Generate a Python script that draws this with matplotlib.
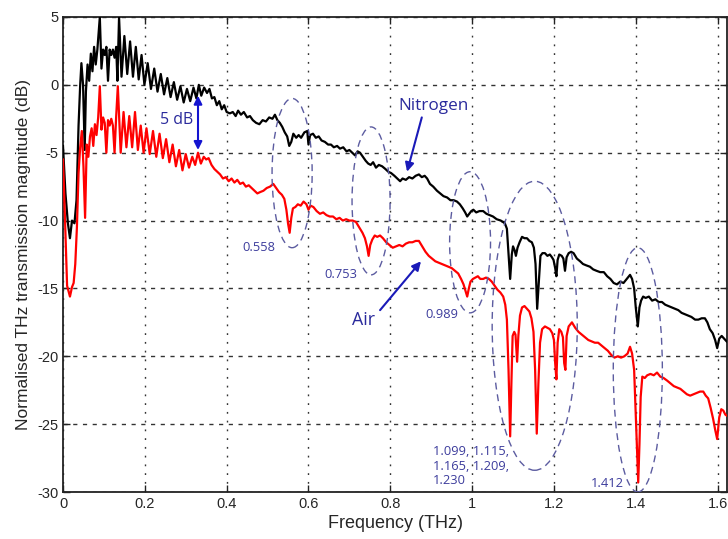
import matplotlib
matplotlib.use("Agg")
import matplotlib.pyplot as plt
from matplotlib.patches import Ellipse

# -----------------------------
# Data (THz, dB)
# -----------------------------

n2_freq = [
    0.000, 0.006, 0.012, 0.017, 0.022, 0.028, 0.033, 0.038, 0.042, 0.045,
    0.049, 0.053, 0.056, 0.060, 0.064, 0.068, 0.072, 0.076, 0.080, 0.084,
    0.090, 0.094, 0.098, 0.102, 0.106, 0.110, 0.114, 0.118, 0.122, 0.126,
    0.130, 0.133, 0.137, 0.143, 0.150, 0.157, 0.164, 0.171, 0.178, 0.185,
    0.192, 0.199, 0.207, 0.215, 0.223, 0.231, 0.239, 0.247, 0.255, 0.263,
    0.271, 0.279, 0.287, 0.295, 0.303, 0.311, 0.319, 0.326, 0.332, 0.338,
    0.345, 0.352, 0.358, 0.364, 0.370, 0.376, 0.382, 0.388, 0.394, 0.400,
    0.408, 0.415, 0.422, 0.428, 0.435, 0.442, 0.450, 0.457,
    0.464, 0.472, 0.480, 0.488, 0.496, 0.504, 0.512, 0.518, 0.524, 0.530,
    0.536, 0.542, 0.548, 0.553, 0.558, 0.563, 0.570, 0.576, 0.582, 0.590,
    0.597, 0.600, 0.604, 0.611, 0.618, 0.625, 0.632, 0.640, 0.648, 0.655,
    0.662, 0.670, 0.677, 0.685, 0.693, 0.700, 0.707, 0.714, 0.720, 0.726,
    0.733, 0.740, 0.746, 0.752, 0.758, 0.765, 0.772, 0.780, 0.788, 0.795,
    0.802, 0.810, 0.817, 0.824, 0.830, 0.838, 0.846, 0.854, 0.862, 0.870,
    0.877, 0.884, 0.890, 0.897, 0.905, 0.914, 0.922, 0.930, 0.939, 0.947,
    0.955, 0.963, 0.970, 0.977, 0.983, 0.988, 0.993, 0.998, 1.003, 1.010,
    1.018, 1.027, 1.035, 1.043, 1.051, 1.060, 1.070, 1.080, 1.085, 1.089,
    1.093, 1.097, 1.100, 1.104, 1.107, 1.111, 1.116, 1.122, 1.128, 1.134,
    1.140, 1.146, 1.151, 1.155, 1.159, 1.163, 1.167, 1.172, 1.178, 1.184,
    1.190, 1.195, 1.199, 1.203, 1.206, 1.209, 1.213, 1.219, 1.223, 1.227,
    1.231, 1.236, 1.242, 1.248, 1.256, 1.264, 1.271, 1.279, 1.288, 1.296,
    1.304, 1.313, 1.322, 1.330, 1.338, 1.346, 1.354, 1.362, 1.370, 1.378,
    1.386, 1.391, 1.396, 1.400, 1.405, 1.409, 1.413, 1.418, 1.424, 1.432,
    1.440, 1.448, 1.456, 1.464, 1.472, 1.480, 1.488, 1.496, 1.504, 1.512,
    1.520, 1.528, 1.536, 1.545, 1.553, 1.561, 1.569, 1.575, 1.581, 1.588,
    1.594, 1.599, 1.604, 1.610, 1.616, 1.622,
]
n2_db = [
    -4.5, -8.0, -10.2, -11.3, -10.0, -10.2, -8.5, -3.0, 0.0, 1.6,
    0.0, -4.8, -0.5, 1.5, 0.3, 2.3, 1.0, 2.8, 1.5, 2.6,
    5.0, 1.2, 2.6, 2.2, 2.8, 0.3, 2.6, 2.2, 2.6, 2.0,
    2.8, 0.3, 5.0, 0.6, 3.6, 0.8, 3.2, 0.6, 2.8, 0.4,
    2.2, 0.0, 1.6, -0.3, 1.2, -0.5, 0.8, -0.7, 0.5, -0.9,
    0.2, -1.1, -0.1, -1.3, -0.3, -1.2, -0.2, -1.0, 0.0, -0.8,
    -0.2, -0.6, -0.3, -1.0, -0.9, -1.5, -1.2, -1.8, -1.5, -2.0,
    -2.1, -2.0, -2.3, -1.9, -2.2, -2.0, -2.4, -2.3,
    -2.6, -2.8, -2.9, -2.6, -2.7, -2.4, -2.5, -2.2, -2.6, -2.8,
    -3.1, -3.5, -3.8, -4.5, -4.2, -3.6, -3.9, -3.7, -3.9, -3.5,
    -3.4, -4.4, -3.7, -3.6, -3.9, -3.8, -4.1, -4.2, -4.4, -4.4,
    -4.6, -4.5, -4.7, -4.6, -4.9, -4.8, -5.0, -5.2, -4.9, -5.0,
    -5.3, -5.6, -5.8, -5.9, -5.7, -6.1, -5.9, -6.0, -6.2, -6.4,
    -6.5, -6.7, -6.9, -7.1, -6.9, -7.0, -6.8, -6.9, -6.7, -6.6,
    -6.8, -6.7, -6.9, -7.3, -7.5, -7.8, -8.0, -8.2, -8.3, -8.5,
    -8.5, -8.6, -8.8, -9.1, -9.4, -9.7, -9.5, -9.3, -9.2, -9.4,
    -9.3, -9.3, -9.5, -9.6, -9.7, -9.9, -10.0, -10.2, -10.6, -12.4,
    -14.3, -12.5, -11.9, -12.2, -12.6, -12.0, -11.6, -11.2, -11.3, -11.3,
    -11.5, -11.6, -12.0, -13.2, -16.5, -14.5, -12.6, -12.4, -12.4, -12.6,
    -12.5, -12.7, -12.9, -13.5, -14.1, -12.9, -12.5, -12.6, -12.8, -13.7,
    -12.7, -12.4, -12.3, -12.4, -12.8, -13.0, -13.2, -13.3, -13.4, -13.6,
    -13.7, -13.8, -13.8, -14.1, -14.3, -14.6, -14.7, -14.5, -14.6, -14.3,
    -14.0, -14.3, -15.0, -16.4, -17.8, -16.4, -15.9, -15.6, -15.7, -15.6,
    -15.9, -15.8, -16.0, -16.0, -16.2, -16.3, -16.4, -16.5, -16.6, -16.8,
    -16.9, -17.0, -17.1, -17.3, -17.3, -17.2, -17.2, -17.5, -18.0, -18.3,
    -18.8, -19.4, -18.7, -18.5, -18.7, -18.9,
]

air_freq = [
    0.000, 0.005, 0.010, 0.017, 0.022, 0.026, 0.030, 0.034, 0.038, 0.042,
    0.046, 0.050, 0.054, 0.058, 0.062, 0.066, 0.070, 0.074, 0.078, 0.082,
    0.086, 0.090, 0.094, 0.098, 0.102, 0.106, 0.110, 0.114, 0.118, 0.122,
    0.126, 0.130, 0.134, 0.141, 0.148, 0.155, 0.162, 0.169, 0.176, 0.183,
    0.190, 0.197, 0.204, 0.212, 0.220, 0.228, 0.236, 0.244, 0.252, 0.260,
    0.268, 0.276, 0.284, 0.292, 0.300, 0.308, 0.316, 0.323, 0.330, 0.337,
    0.344, 0.350, 0.356, 0.363, 0.370, 0.377, 0.384, 0.391, 0.398, 0.405,
    0.412, 0.419, 0.426, 0.433, 0.440, 0.447, 0.454, 0.461, 0.468, 0.475,
    0.482, 0.490, 0.498, 0.506, 0.514, 0.521,
    0.528, 0.535, 0.541, 0.546, 0.550, 0.554, 0.558, 0.562, 0.568, 0.574,
    0.581, 0.588, 0.595, 0.600, 0.605, 0.612, 0.620, 0.628, 0.636, 0.644,
    0.652, 0.660, 0.668, 0.676, 0.684, 0.692, 0.700, 0.708, 0.716, 0.724,
    0.732, 0.738, 0.743, 0.747, 0.751, 0.756, 0.762, 0.768, 0.775, 0.782,
    0.790, 0.798, 0.806, 0.814, 0.822, 0.830, 0.838, 0.846, 0.854, 0.862,
    0.870, 0.878, 0.886, 0.894, 0.902, 0.910, 0.918, 0.926, 0.934, 0.942,
    0.950, 0.958, 0.966, 0.973, 0.979, 0.984, 0.988, 0.992, 0.996, 1.002,
    1.008, 1.014, 1.020, 1.027, 1.034, 1.041, 1.048, 1.055, 1.062, 1.069,
    1.076, 1.081, 1.085, 1.089, 1.093, 1.096, 1.099, 1.103, 1.106, 1.110,
    1.113, 1.117, 1.122, 1.128, 1.134, 1.140, 1.145, 1.150, 1.154, 1.158,
    1.162, 1.166, 1.171, 1.178, 1.184, 1.190, 1.196, 1.200, 1.203, 1.206,
    1.209, 1.213, 1.218, 1.222, 1.225, 1.228, 1.231, 1.236, 1.244, 1.252,
    1.260, 1.268, 1.276, 1.284, 1.292, 1.300, 1.308, 1.316, 1.324, 1.332,
    1.340, 1.348, 1.356, 1.364, 1.372, 1.380, 1.386, 1.391, 1.396, 1.400,
    1.404, 1.406, 1.409, 1.412, 1.416, 1.422, 1.428, 1.436, 1.444, 1.452,
    1.460, 1.468, 1.477, 1.485, 1.493, 1.501, 1.509, 1.517, 1.525, 1.533,
    1.541, 1.549, 1.557, 1.565, 1.571, 1.577, 1.583, 1.589, 1.594, 1.599,
    1.604, 1.609, 1.614, 1.619, 1.624,
]
air_db = [
    -5.5, -10.0, -14.8, -15.6, -14.9, -14.6, -13.2, -10.5, -6.5, -4.6,
    -3.4, -6.0, -9.8, -4.4, -5.3, -3.8, -3.2, -4.5, -2.9, -3.7,
    -2.4, -0.1, -3.3, -2.4, -2.8, -5.0, -2.6, -3.0, -2.5, -3.0,
    -5.0, -2.3, -0.1, -5.0, -2.0, -4.6, -2.3, -4.6, -2.0, -4.8,
    -3.0, -5.0, -3.2, -5.1, -3.4, -5.3, -3.6, -5.4, -4.0, -5.7,
    -4.4, -6.0, -4.8, -6.3, -5.1, -6.1, -5.3, -5.9, -5.0, -5.8,
    -5.3, -5.5, -5.4, -5.9, -6.2, -6.4, -6.6, -6.9, -6.8, -7.1,
    -6.9, -7.2, -7.0, -7.3, -7.2, -7.5, -7.4, -7.6, -7.8, -8.0,
    -7.9, -7.8, -7.6, -7.5, -7.3, -7.6,
    -7.9, -8.1, -8.4, -9.2, -10.2, -10.9, -9.8, -9.1, -9.0, -8.8,
    -8.9, -8.6, -8.8, -9.2, -8.9, -9.0, -9.3, -9.5, -9.4, -9.6,
    -9.7, -9.7, -9.9, -9.8, -10.0, -9.9, -10.0, -10.0, -10.1, -10.5,
    -10.9, -11.3, -11.9, -12.6, -11.8, -11.4, -11.1, -11.2, -11.1, -11.3,
    -11.6, -11.8, -12.0, -11.9, -11.8, -11.9, -11.7, -11.6, -11.6, -11.5,
    -11.5, -11.9, -12.3, -12.6, -12.8, -13.0, -13.1, -13.2, -13.3, -13.4,
    -13.5, -13.7, -13.9, -14.3, -14.7, -15.2, -15.6, -15.0, -14.5, -14.3,
    -14.2, -14.1, -14.3, -14.3, -14.2, -14.3, -14.5, -14.8, -15.1, -15.3,
    -15.6, -16.2, -17.3, -21.0, -25.9, -22.0, -18.5, -18.2, -18.4, -20.4,
    -18.5, -17.0, -16.4, -16.3, -16.5, -16.7, -17.2, -18.2, -21.0, -25.7,
    -22.0, -19.0, -18.0, -17.8, -17.9, -18.0, -18.3, -18.8, -20.5, -21.7,
    -19.0, -18.0, -18.2, -18.6, -20.5, -21.0, -18.5, -17.8, -17.5, -17.9,
    -18.2, -18.4, -18.6, -18.8, -18.9, -19.0, -19.0, -19.2, -19.4, -19.6,
    -19.9, -20.1, -20.0, -20.1, -20.0, -19.8, -19.3, -19.8, -21.0, -24.4,
    -28.0, -29.3, -26.5, -23.0, -21.5, -21.6, -21.4, -21.3, -21.4, -21.2,
    -21.5, -21.6, -21.8, -22.0, -22.2, -22.3, -22.4, -22.6, -22.8, -22.9,
    -22.8, -22.7, -22.6, -22.6, -22.9, -23.1, -23.8, -24.6, -25.4, -26.1,
    -24.5, -23.9, -24.0, -24.3, -24.4,
]

x_ticks = [0, 0.2, 0.4, 0.6, 0.8, 1.0, 1.2, 1.4, 1.6]
x_tick_labels = ["0", "0.2", "0.4", "0.6", "0.8", "1", "1.2", "1.4", "1.6"]
y_ticks = [5, 0, -5, -10, -15, -20, -25, -30]
y_tick_labels = ["5", "0", "-5", "-10", "-15", "-20", "-25", "-30"]

# absorption line groups: (centre freq, centre dB, width, height)
line_groups = [
    (0.560, -6.5, 0.098, 11.0),
    (0.753, -8.55, 0.093, 10.9),
    (0.995, -11.6, 0.100, 10.4),
    (1.153, -17.75, 0.208, 21.3),
    (1.405, -21.0, 0.120, 18.0),
]
line_labels = ["0.558", "0.753", "0.989", "1.099, 1.115,\n1.165, 1.209,\n1.230", "1.412"]
line_label_pos = [(0.478, -12.0), (0.680, -14.0), (0.925, -16.9), (0.905, -28.1), (1.33, -29.4)]

# -----------------------------
# Figure
# -----------------------------

fig = plt.figure(figsize=(7.28, 5.39), dpi=100)
ax = fig.add_axes([63 / 728, 47 / 539, 664 / 728, 475 / 539])

ax.plot(n2_freq, n2_db, color="black", lw=1.6, zorder=3)
ax.plot(air_freq, air_db, color="#ff0000", lw=1.6, zorder=3)

ax.set_xlim(0, 1.623)
ax.set_ylim(-30, 5)
ax.set_xticks(x_ticks)
ax.set_xticklabels(x_tick_labels)
ax.set_yticks(y_ticks)
ax.set_yticklabels(y_tick_labels)

for lab in ax.get_xticklabels() + ax.get_yticklabels():
    lab.set_fontfamily("Liberation Sans")
    lab.set_fontsize(10.5)
    lab.set_color("#262626")

ax.tick_params(direction="in", top=True, right=True, length=5, width=1.0, color="#222222")
for s in ax.spines.values():
    s.set_linewidth(1.3)
    s.set_color("#222222")

ax.xaxis.grid(True, linestyle=(0, (1.3, 5)), color="#333333", lw=1.0)
ax.yaxis.grid(True, linestyle=(0, (3, 4)), color="#333333", lw=1.0)
ax.set_axisbelow(True)

ax.set_xlabel("Frequency (THz)", fontfamily="Liberation Sans", fontsize=13, color="#262626", labelpad=3)
ax.set_ylabel("Normalised THz transmission magnitude (dB)", fontfamily="Liberation Sans",
              fontsize=12.5, color="#262626", labelpad=4)

# dashed ellipses around absorption lines
for (cx, cy, w, h) in line_groups:
    ax.add_patch(Ellipse((cx, cy), w, h, fill=False, edgecolor="#5c5ca0",
                         lw=1.0, linestyle=(0, (5, 3.5)), zorder=4))

for txt, (tx, ty) in zip(line_labels, line_label_pos):
    ha = "left" if "\n" in txt else "center"
    ax.text(tx, ty, txt, ha=ha, va="center", fontsize=9.3, color="#3c3c9c",
            fontfamily="Open Sans", linespacing=1.15, zorder=5)

# 5 dB offset marker
ax.annotate("", xy=(0.33, -0.8), xytext=(0.33, -4.8),
            arrowprops=dict(arrowstyle="<|-|>", color="#1414d0", lw=1.5,
                            mutation_scale=12, shrinkA=0, shrinkB=0), zorder=5)
ax.text(0.278, -2.6, "5 dB", ha="center", va="center", fontsize=11.4,
        color="#2a2a9c", fontfamily="Open Sans", zorder=5)

# series labels with arrows
ax.text(0.905, -1.55, "Nitrogen", ha="center", va="center", fontsize=12.3,
        color="#2a2a9c", fontfamily="Open Sans", zorder=5)
ax.annotate("", xy=(0.841, -6.4), xytext=(0.877, -2.4),
            arrowprops=dict(arrowstyle="-|>", color="#1a1ab8", lw=1.5,
                            mutation_scale=13, shrinkA=0, shrinkB=0), zorder=5)
ax.text(0.735, -17.3, "Air", ha="center", va="center", fontsize=12.8,
        color="#2a2a9c", fontfamily="Open Sans", zorder=5)
ax.annotate("", xy=(0.875, -13.0), xytext=(0.775, -16.6),
            arrowprops=dict(arrowstyle="-|>", color="#1a1ab8", lw=1.5,
                            mutation_scale=13, shrinkA=0, shrinkB=0), zorder=5)

fig.savefig("out.png", dpi=100)
